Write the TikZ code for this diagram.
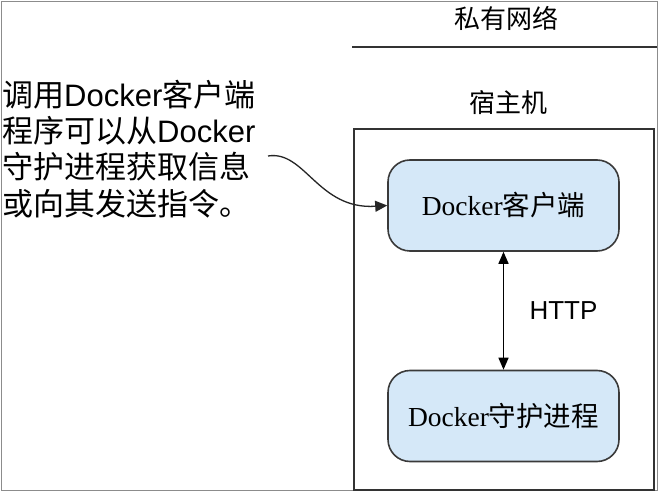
\documentclass[tikz,border=0pt]{standalone}
\usepackage{fontspec}
\setmainfont{Liberation Sans}
\newfontfamily\cjk{Noto Sans CJK SC}
\newfontfamily\serifl{Liberation Serif}
\usetikzlibrary{arrows.meta}
\definecolor{boxfill}{HTML}{D5E8F8}
\definecolor{boxline}{HTML}{3A3A3A}
\tikzset{
  procbox/.style={draw=boxline, line width=1.6pt, fill=boxfill, rounded corners=22pt,
    minimum width=231pt, minimum height=91pt, inner sep=0pt},
  frameline/.style={draw=black!80, line width=2pt},
  tip/.style={-{Triangle[length=12pt,width=11pt]}},
  bitip/.style={{Triangle[length=12pt,width=10pt]}-{Triangle[length=12pt,width=10pt]}},
}
\begin{document}
\begin{tikzpicture}[x=1pt,y=-1pt]
\useasboundingbox (0,0) rectangle (659,494);
\fill[white] (0,0) rectangle (659,494);
% outer frame
\draw[draw=black!45, line width=1.5pt] (1.5,1.5) rectangle (657.5,490.5);
% private network divider
\coordinate (netL) at (352,47);
\coordinate (netR) at (657,47);
\draw[frameline] (netL) -- (netR);
\node[font=\cjk\fontsize{26}{30}\selectfont] (net) at (506,18) {私有网络};
\node[font=\cjk\fontsize{26}{30}\selectfont] (host) at (508,103) {宿主机};
% host box
\draw[frameline] (354,129) rectangle (653.5,489.5);
% process boxes
\node[procbox, font=\fontsize{27.5}{32}\selectfont] (client) at (503.5,205.5)
  {{\serifl Docker}{\cjk 客户端}};
\node[procbox, font=\fontsize{27.5}{32}\selectfont] (daemon) at (503.5,416)
  {{\serifl Docker}{\cjk 守护进程}};
\draw[bitip, line width=1.5pt, black] (client.south) -- (daemon.north)
  node[midway, right=22pt, font=\fontsize{26}{30}\selectfont] (http) {HTTP};
% note
\node[anchor=west, align=left, inner sep=0pt, font=\fontsize{31}{36.2}\selectfont] (note) at (2,149)
  {{\cjk 调用}Docker{\cjk 客户端}\\
   {\cjk 程序可以从}Docker\\
   {\cjk 守护进程获取信息}\\
   {\cjk 或向其发送指令。}};
\coordinate (curvestart) at (268,156);
\draw[tip, line width=1.3pt, black!85] (curvestart) .. controls (305,150) and (318,210) .. (client.west);
\end{tikzpicture}
\end{document}
